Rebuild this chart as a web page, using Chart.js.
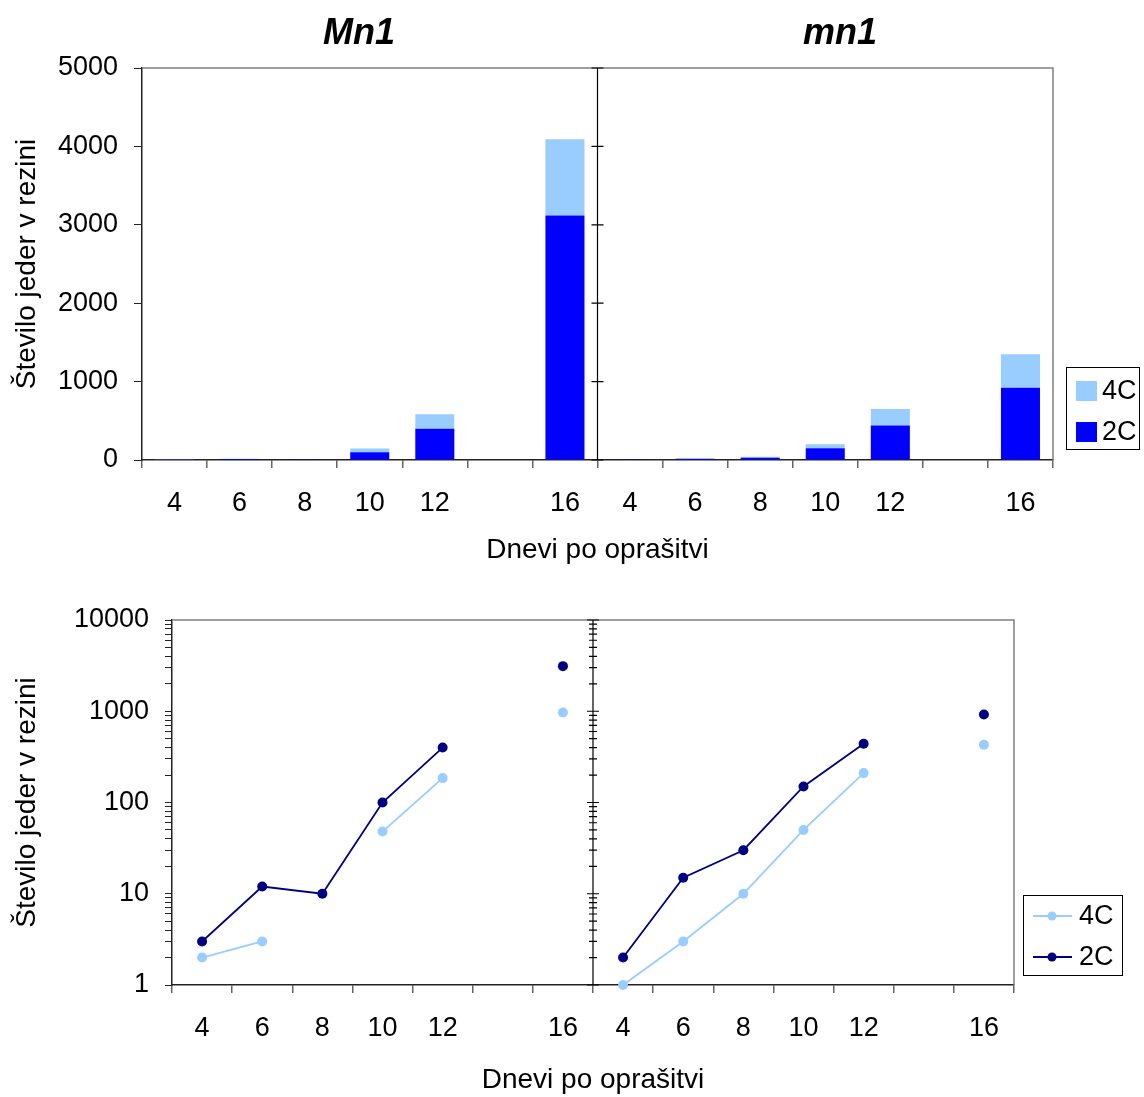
<!DOCTYPE html>
<html>
<head>
<meta charset="utf-8">
<script src="https://cdn.jsdelivr.net/npm/chart.js@4"></script>
<style>
    body { margin: 0; background: #fff; }
    #wrap { position: relative; width: 1144px; height: 1097px; }
    canvas { position: absolute; left: 0; }
</style>
</head>
<body>
<div id="wrap">
    <canvas id="bars" width="1144" height="580" style="top:0"></canvas>
    <canvas id="lines" width="1144" height="517" style="top:580px"></canvas>
</div>
<script>
// days after pollination, day 14 has no sample
const days = ['4', '6', '8', '10', '12', '', '16'];
const panels = ['Mn1', 'mn1'];
const seriesNames = ['4C', '2C'];

// nuclei per section
const Mn1_4C = [2, 3, null, 48, 185, null, 970];
const Mn1_2C = [3, 12, 10, 100, 400, null, 3120];
const mn1_4C = [1, 3, 10, 50, 210, null, 430];
const mn1_2C = [2, 15, 30, 150, 440, null, 920];

const barTicks = [0, 1000, 2000, 3000, 4000, 5000];
const logTicks = [1, 10, 100, 1000, 10000];

const fontFamily = "'Liberation Sans', Arial, sans-serif";
const yTitle = 'Število jeder v rezini';
const xTitle = 'Dnevi po oprašitvi';

Chart.defaults.font.family = fontFamily;
Chart.defaults.color = '#000';

const allDays = days.concat(days);
const lastLeft = days.length - 1;

// outer frame + middle divider with ticks on both sides
const panelFrame = {
    id: 'panelFrame',
    afterDatasetsDraw(chart) {
        const { ctx, chartArea: area, scales: { x, y } } = chart;
        const mid = (x.getPixelForValue(lastLeft) + x.getPixelForValue(lastLeft + 1)) / 2;
        ctx.save();
        ctx.lineWidth = 1.5;
        ctx.strokeStyle = '#808080';
        ctx.beginPath();
        ctx.moveTo(area.left, area.top);
        ctx.lineTo(area.right, area.top);
        ctx.lineTo(area.right, area.bottom);
        ctx.stroke();
        ctx.strokeStyle = '#000';
        ctx.lineWidth = 1.2;
        ctx.beginPath();
        ctx.moveTo(mid, area.top);
        ctx.lineTo(mid, area.bottom);
        y.ticks.forEach((t, i) => {
            const py = y.getPixelForTick(i);
            const len = t.label ? 6 : 4;
            ctx.moveTo(mid - len, py);
            ctx.lineTo(mid + len, py);
        });
        ctx.stroke();
        ctx.restore();
    }
};

const panelTitles = {
    id: 'panelTitles',
    afterDraw(chart, args, opts) {
        const { ctx } = chart;
        ctx.save();
        ctx.font = `italic bold 36px ${fontFamily}`;
        ctx.textAlign = 'center';
        ctx.textBaseline = 'alphabetic';
        ctx.fillStyle = '#000';
        panels.forEach((p, i) => ctx.fillText(p, opts.x[i], opts.y));
        ctx.restore();
    }
};

const boxLegend = {
    id: 'boxLegend',
    afterDraw(chart, args, opts) {
        const { ctx } = chart;
        const [bx, by, bw, bh] = opts.box;
        ctx.save();
        ctx.strokeStyle = '#000';
        ctx.lineWidth = 1;
        ctx.strokeRect(bx + 0.5, by + 0.5, bw, bh);
        ctx.font = `27px ${fontFamily}`;
        ctx.textBaseline = 'middle';
        seriesNames.forEach((name, i) => {
            const ds = chart.data.datasets.find(d => d.label === name);
            const cy = by + opts.rowTop + i * opts.rowGap;
            if (opts.kind === 'bar') {
                ctx.fillStyle = ds.backgroundColor;
                ctx.fillRect(bx + 10, cy - 10, 21, 20);
                ctx.fillStyle = '#000';
                ctx.fillText(name, bx + 36, cy + 1);
            } else {
                ctx.strokeStyle = ds.borderColor;
                ctx.lineWidth = 2;
                ctx.beginPath();
                ctx.moveTo(bx + 10, cy);
                ctx.lineTo(bx + 49, cy);
                ctx.stroke();
                ctx.fillStyle = ds.borderColor;
                ctx.beginPath();
                ctx.arc(bx + 29, cy, 4.5, 0, Math.PI * 2);
                ctx.fill();
                ctx.fillStyle = '#000';
                ctx.fillText(name, bx + 56, cy + 1);
            }
        });
        ctx.restore();
    }
};

const tickFont = { size: 27 };
const titleFont = { size: 28 };

new Chart(document.getElementById('bars'), {
    type: 'bar',
    data: {
        labels: allDays,
        datasets: [{
            label: '2C',
            data: Mn1_2C.concat(mn1_2C),
            backgroundColor: '#0000FF'
        }, {
            label: '4C',
            data: Mn1_4C.concat(mn1_4C),
            backgroundColor: '#99CCFF'
        }]
    },
    options: {
        responsive: false,
        animation: false,
        layout: { padding: { top: 68, right: 91, bottom: 0, left: 0 } },
        datasets: { bar: { categoryPercentage: 1, barPercentage: 0.6 } },
        plugins: {
            legend: { display: false },
            tooltip: { enabled: false },
            panelTitles: { x: [359, 840], y: 44 },
            boxLegend: { kind: 'bar', box: [1066, 367, 73, 82], rowTop: 24, rowGap: 41 }
        },
        scales: {
            x: {
                stacked: true,
                afterFit: s => { s.height = 120; },
                grid: { offset: true, drawOnChartArea: false, tickLength: 8, color: '#666', lineWidth: 1.5 },
                border: { color: '#222', width: 1.5 },
                ticks: { font: tickFont, padding: 19, autoSkip: false, maxRotation: 0 },
                title: { display: true, text: xTitle, font: titleFont, padding: { top: 0, bottom: 13 } }
            },
            y: {
                stacked: true,
                min: 0,
                max: 5000,
                afterFit: s => { s.width = 142; },
                afterBuildTicks: s => { s.ticks = barTicks.map(v => ({ value: v })); },
                grid: { drawOnChartArea: false, tickLength: 8, color: '#222' },
                border: { color: '#222', width: 1.5 },
                ticks: { font: tickFont, padding: 16, callback: v => String(v) },
                title: { display: true, text: yTitle, font: titleFont, padding: { top: 10, bottom: 0 } }
            }
        }
    },
    plugins: [panelFrame, panelTitles, boxLegend]
});

// no line across the divider between the two panels
const skipDivider = ctx => ctx.p0DataIndex === lastLeft ? 'rgba(0,0,0,0)' : undefined;

new Chart(document.getElementById('lines'), {
    type: 'line',
    data: {
        labels: allDays,
        datasets: [{
            label: '4C',
            data: Mn1_4C.concat(mn1_4C),
            borderColor: '#99CCFF',
            backgroundColor: '#99CCFF',
            segment: { borderColor: skipDivider }
        }, {
            label: '2C',
            data: Mn1_2C.concat(mn1_2C),
            borderColor: '#000080',
            backgroundColor: '#000080',
            segment: { borderColor: skipDivider }
        }]
    },
    options: {
        responsive: false,
        animation: false,
        layout: { padding: { top: 40, right: 130, bottom: 0, left: 0 } },
        datasets: {
            line: { borderWidth: 1.8, pointRadius: 5, pointBorderWidth: 0, tension: 0, clip: false, spanGaps: false }
        },
        plugins: {
            legend: { display: false },
            tooltip: { enabled: false },
            boxLegend: { kind: 'line', box: [1023, 315, 99, 80], rowTop: 21, rowGap: 41 }
        },
        scales: {
            x: {
                offset: true,
                afterFit: s => { s.height = 112; },
                grid: { offset: true, drawOnChartArea: false, tickLength: 8, color: '#666', lineWidth: 1.5 },
                border: { color: '#222', width: 1.5 },
                ticks: { font: tickFont, padding: 19, autoSkip: false, maxRotation: 0 },
                title: { display: true, text: xTitle, font: titleFont, padding: { top: 0, bottom: 0 } }
            },
            y: {
                type: 'logarithmic',
                min: 1,
                max: 10000,
                afterFit: s => { s.width = 172; },
                afterBuildTicks: s => {
                    // keep 1..9 in every decade
                    s.ticks = s.ticks.filter(t => {
                        const m = t.value / Math.pow(10, Math.floor(Math.log10(t.value) + 1e-9));
                        return Math.abs(m - Math.round(m)) < 1e-6;
                    });
                },
                grid: { drawOnChartArea: false, tickLength: 7, color: '#222' },
                border: { color: '#222', width: 1.5 },
                ticks: {
                    font: tickFont,
                    padding: 16,
                    autoSkip: false,
                    callback: v => logTicks.includes(v) ? String(v) : ''
                },
                title: { display: true, text: yTitle, font: titleFont, padding: { top: 10, bottom: 0 } }
            }
        }
    },
    plugins: [panelFrame, boxLegend]
});
</script>
</body>
</html>
